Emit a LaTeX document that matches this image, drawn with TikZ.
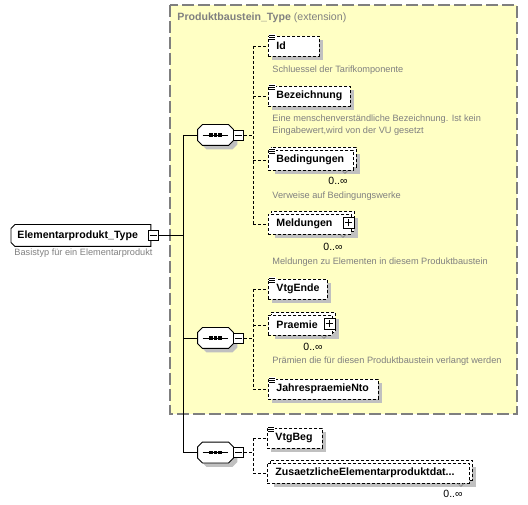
\documentclass[tikz,border=0pt]{standalone}
\usepackage{fontspec}
\setmainfont{Liberation Sans}
\usetikzlibrary{shadows}
\definecolor{ylw}{HTML}{FFFFC4}
\definecolor{shgray}{HTML}{C0C0C0}
\definecolor{dgray}{HTML}{808080}
\definecolor{bordgray}{HTML}{7F7F7F}
\newcommand\elfont{\fontsize{10.6}{12}\selectfont\bfseries}
\newcommand\descfont{\fontsize{9.2}{12}\selectfont}
\newcommand\occfont{\fontsize{10.5}{12}\selectfont}
\newcommand\seqdraw[1]{%
  \fill[shgray] ([shift={(9,4)}]#1.north west) -- ([shift={(-1,4)}]#1.north east) -- ([shift={(4,9)}]#1.north east) -- ([shift={(4,-1)}]#1.south east) -- ([shift={(-1,4)}]#1.south east) -- ([shift={(9,4)}]#1.south west) -- ([shift={(4,-1)}]#1.south west) -- ([shift={(4,9)}]#1.north west) -- cycle;
  \draw[fill=white] ([shift={(5,0)}]#1.north west) -- ([shift={(-5,0)}]#1.north east) -- ([shift={(0,5)}]#1.north east) -- ([shift={(0,-5)}]#1.south east) -- ([shift={(-5,0)}]#1.south east) -- ([shift={(5,0)}]#1.south west) -- ([shift={(0,-5)}]#1.south west) -- ([shift={(0,5)}]#1.north west) -- cycle;
  \draw ([xshift=5pt]#1.west) -- ([xshift=-5pt]#1.east);
  \foreach \dx in {-4.5,0,4.5} \fill ([shift={(\dx-1.7,-1.7)}]#1.center) rectangle ([shift={(\dx+1.7,1.7)}]#1.center);
}
\newcommand\eqicon[1]{%
  \fill[white] ([shift={(0.5,-1.5)}]#1.north west) rectangle ([shift={(7.5,5)}]#1.north west);
  \foreach \dy in {0,2,4} \draw[line width=0.7pt] ([shift={(1,\dy)}]#1.north west) -- ([shift={(7,\dy)}]#1.north west);
}
\newcommand\chev[1]{\draw[dgray, line width=0.6pt] ([shift={(-12,0)}]#1.south east) -- ([shift={(-9,3)}]#1.south east) -- ([shift={(-6,0)}]#1.south east);}
\newcommand\minussign[1]{\draw ([xshift=2pt]#1.west) -- ([xshift=-2pt]#1.east);}
\newcommand\plussign[1]{\draw ([xshift=2pt]#1.west) -- ([xshift=-2pt]#1.east); \draw ([yshift=2pt]#1.south) -- ([yshift=-2pt]#1.north);}
\begin{document}
\begin{tikzpicture}[x=1pt,y=-1pt, line width=0.9pt,
  el/.style={draw, dash pattern=on 3pt off 2pt, fill=white, anchor=west, minimum height=20pt, inner xsep=8pt, inner ysep=0pt, align=left, font=\elfont},
  shad/.style={drop shadow={shadow xshift=4pt, shadow yshift=-4pt, fill=shgray, opacity=1}},
  shadb/.style={drop shadow={shadow xshift=4pt, shadow yshift=-7pt, fill=shgray, opacity=1}},
  desc/.style={anchor=west, inner sep=0pt, text=dgray, font=\descfont, align=left},
  occ/.style={inner sep=0pt, font=\occfont},
  seq/.style={rectangle, minimum width=35pt, minimum height=20pt, inner sep=0pt},
  pmbox/.style={draw, solid, fill=white, minimum size=10pt, inner sep=0pt},
  dconn/.style={dash pattern=on 3pt off 2pt},
]
\useasboundingbox (0,0) rectangle (528,505);
% extension area
\fill[ylw] (170,5) rectangle (517,414);
\draw[bordgray, line width=1.2pt, dash pattern=on 12pt off 4pt] (170,5) rectangle (517,414);
\node[anchor=west, inner sep=0pt, text=dgray, font=\elfont] (ttl) at (177,18) {Produktbaustein\_Type {\mdseries (extension)}};
% coordinates for connector columns
\coordinate (trunk) at (183,0);
\coordinate (b1) at (253,0);
% main node
\node[anchor=west, minimum height=21pt, inner xsep=6pt, inner ysep=0pt, text width=127pt, align=left, font=\elfont] (main) at (11,235.5) {Elementarprodukt\_Type};
\draw (main.north east) -- ([xshift=4pt]main.north west) -- ([yshift=-4pt]main.north west) -- ([yshift=4pt]main.south west) -- ([xshift=4pt]main.south west) -- (main.south east) -- cycle;
\node[pmbox] (mainm) at ([xshift=2.5pt]main.east) {};
\minussign{mainm}
\node[desc] (maind) at (14,253) {Basistyp für ein Elementarprodukt};
% sequence nodes
\node[seq] (s1) at (215.5,135) {};
\node[seq] (s2) at (215.5,338) {};
\node[seq] (s3) at (215.5,452.5) {};
% solid connectors
\draw (mainm.east) -- (mainm.east -| trunk);
\draw (s1.west -| trunk) -- (s3.west -| trunk);
\foreach \s in {s1,s2,s3} \draw (\s.west -| trunk) -- (\s.west);
\seqdraw{s1}
\seqdraw{s2}
\seqdraw{s3}
\node[pmbox, anchor=west] (s1m) at (s1.east) {}; \minussign{s1m}
\node[pmbox, anchor=west] (s2m) at (s2.east) {}; \minussign{s2m}
\node[pmbox, anchor=west] (s3m) at (s3.east) {}; \minussign{s3m}
% group 1
\node[el, shad, text width=35pt] (id) at (268,46) {Id}; \eqicon{id}
\node[desc] (idd) at (272,70) {Schluessel der Tarifkomponente};
\node[el, shad, text width=66pt] (bez) at (268,96) {Bezeichnung}; \eqicon{bez}
\node[desc] (bezd) at (272,125) {Eine menschenverständliche Bezeichnung. Ist kein\\Eingabewert,wird von der VU gesetzt};
\node[el, shadb, text width=69pt] (bedb) at (271,157) {};
\node[el, text width=69pt] (bed) at (268,160) {Bedingungen}; \eqicon{bed} \chev{bed}
\node[occ] (bedo) at (338,181) {0..∞};
\node[desc] (bedd) at (272,196) {Verweise auf Bedingungswerke};
\node[el, shadb, text width=67pt] (meldb) at (271,221) {};
\node[el, text width=67pt] (meld) at (268,224) {Meldungen}; \chev{meld}
\node[pmbox, minimum size=11pt] (meldp) at (348.5,222.5) {}; \plussign{meldp}
\node[occ] (meldo) at (333,247) {0..∞};
\node[desc] (meldd) at (272,262) {Meldungen zu Elementen in diesem Produktbaustein};
% group 2
\node[el, shad, text width=43pt] (vtge) at (268,289) {VtgEnde}; \eqicon{vtge}
\node[el, shadb, text width=48pt] (prab) at (271,322) {};
\node[el, text width=48pt] (pra) at (268,325) {Praemie}; \chev{pra}
\node[pmbox, minimum size=11pt] (prap) at (329.5,323.5) {}; \plussign{prap}
\node[occ] (prao) at (313,347) {0..∞};
\node[desc] (prad) at (272,361) {Prämien die für diesen Produktbaustein verlangt werden};
\node[el, shad, text width=94pt] (jahr) at (268,389) {JahrespraemieNto}; \eqicon{jahr}
% group 3
\node[el, shad, text width=39pt] (vtgb) at (267,438) {VtgBeg}; \eqicon{vtgb}
\node[el, shadb, text width=186pt] (zusb) at (270,470) {};
\node[el, text width=186pt] (zus) at (267,473) {ZusaetzlicheElementarproduktdat...}; \chev{zus}
\node[occ] (zuso) at (453,494) {0..∞};
% dashed connectors
\draw[dconn] (s1m.east) -- (s1m.east -| b1);
\draw[dconn] (id.west -| b1) -- (meld.west -| b1);
\foreach \n in {id,bez,bed,meld} \draw[dconn] (\n.west -| b1) -- (\n.west);
\draw[dconn] (s2m.east) -- (s2m.east -| b1);
\draw[dconn] (vtge.west -| b1) -- (jahr.west -| b1);
\foreach \n in {vtge,pra,jahr} \draw[dconn] (\n.west -| b1) -- (\n.west);
\draw[dconn] (s3m.east) -- (s3m.east -| b1);
\draw[dconn] (vtgb.west -| b1) -- (zus.west -| b1);
\foreach \n in {vtgb,zus} \draw[dconn] (\n.west -| b1) -- (\n.west);
\end{tikzpicture}
\end{document}
